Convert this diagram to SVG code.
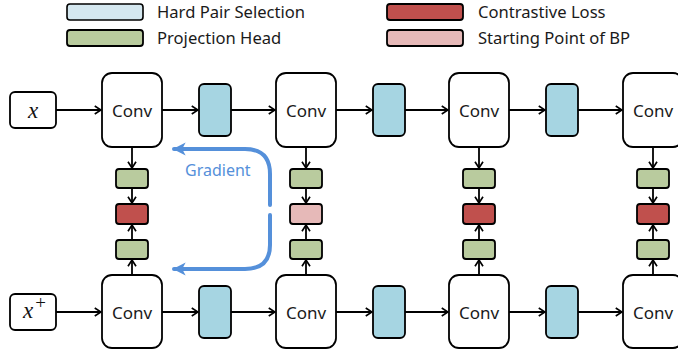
<svg xmlns="http://www.w3.org/2000/svg" width="678" height="351" viewBox="0 0 678 351">
  <style>
    .lbl { font-family: "Noto Sans", "DejaVu Sans", sans-serif; fill: #1a1a1a; }
    .legend { font-size: 16.6px; }
    .conv { fill: #ffffff; stroke: #000; stroke-width: 1.8; }
    .conv-t { font-size: 17px; text-anchor: middle; }
    .hps { fill: #a6d5e2; stroke: #000; stroke-width: 1.8; }
    .proj { fill: #b9cb9e; stroke: #000; stroke-width: 1.8; }
    .loss { fill: #c0504d; stroke: #000; stroke-width: 1.8; }
    .bp { fill: #e6b9b8; stroke: #000; stroke-width: 1.8; }
    .inp { fill: #fff; stroke: #000; stroke-width: 1.8; }
    .math { font-family: "Liberation Serif", "DejaVu Serif", serif; font-style: italic; font-size: 23px; fill: #111; }
    .wire { stroke: #000; stroke-width: 1.8; fill: none; marker-end: url(#chev); }
    .grad { stroke: #5590da; stroke-width: 4; fill: none; stroke-linecap: round; }
  </style>
  <defs>
    <!-- open chevron tip used by all black connectors -->
    <marker id="chev" viewBox="0 0 10 12" refX="9" refY="6" markerWidth="8.5" markerHeight="10" markerUnits="userSpaceOnUse" orient="auto">
      <path d="M1.5,1.2 L9,6 L1.5,10.8" fill="none" stroke="#000" stroke-width="2"/>
    </marker>
    <marker id="gradHead" viewBox="0 0 12 12" refX="10" refY="6" markerWidth="14" markerHeight="14" markerUnits="userSpaceOnUse" orient="auto">
      <path d="M0,0.5 L11,6 L0,11.5 L3,6 Z" fill="#5590da"/>
    </marker>
  </defs>

  <!-- legend -->
  <g id="legend">
    <rect x="67" y="4" width="76" height="16" rx="3" fill="#d5e8f0" stroke="#000" stroke-width="1.6"/>
    <text class="lbl legend" x="157" y="17.5">Hard Pair Selection</text>
    <rect x="67" y="30" width="76" height="16" rx="3" class="proj" stroke-width="1.6"/>
    <text class="lbl legend" x="157" y="44">Projection Head</text>
    <rect x="387" y="4" width="76" height="16" rx="3" class="loss" stroke-width="1.6"/>
    <text class="lbl legend" x="478" y="17.5">Contrastive Loss</text>
    <rect x="387" y="30" width="76" height="16" rx="3" class="bp" stroke-width="1.6"/>
    <text class="lbl legend" x="478" y="44">Starting Point of BP</text>
  </g>

  <!-- connectors -->
  <g id="connectors">
    <!-- top row -->
    <line class="wire" x1="56" y1="110" x2="101" y2="110"/>
    <line class="wire" x1="162" y1="110" x2="198" y2="110"/>
    <line class="wire" x1="231" y1="110" x2="275" y2="110"/>
    <line class="wire" x1="336" y1="110" x2="372" y2="110"/>
    <line class="wire" x1="405" y1="110" x2="448" y2="110"/>
    <line class="wire" x1="509" y1="110" x2="545" y2="110"/>
    <line class="wire" x1="578" y1="110" x2="622" y2="110"/>
    <!-- bottom row -->
    <line class="wire" x1="56" y1="312" x2="101" y2="312"/>
    <line class="wire" x1="162" y1="312" x2="198" y2="312"/>
    <line class="wire" x1="231" y1="312" x2="275" y2="312"/>
    <line class="wire" x1="336" y1="312" x2="372" y2="312"/>
    <line class="wire" x1="405" y1="312" x2="448" y2="312"/>
    <line class="wire" x1="509" y1="312" x2="545" y2="312"/>
    <line class="wire" x1="578" y1="312" x2="622" y2="312"/>
    <!-- vertical heads: column 1 -->
    <line class="wire" x1="132" y1="147" x2="132" y2="168"/>
    <line class="wire" x1="132" y1="188" x2="132" y2="203"/>
    <line class="wire" x1="132" y1="239" x2="132" y2="225"/>
    <line class="wire" x1="132" y1="275" x2="132" y2="260"/>
    <!-- column 2 -->
    <line class="wire" x1="306" y1="147" x2="306" y2="168"/>
    <line class="wire" x1="306" y1="188" x2="306" y2="203"/>
    <line class="wire" x1="306" y1="239" x2="306" y2="225"/>
    <line class="wire" x1="306" y1="275" x2="306" y2="260"/>
    <!-- column 3 -->
    <line class="wire" x1="479" y1="147" x2="479" y2="168"/>
    <line class="wire" x1="479" y1="188" x2="479" y2="203"/>
    <line class="wire" x1="479" y1="239" x2="479" y2="225"/>
    <line class="wire" x1="479" y1="275" x2="479" y2="260"/>
    <!-- column 4 -->
    <line class="wire" x1="653" y1="147" x2="653" y2="168"/>
    <line class="wire" x1="653" y1="188" x2="653" y2="203"/>
    <line class="wire" x1="653" y1="239" x2="653" y2="225"/>
    <line class="wire" x1="653" y1="275" x2="653" y2="260"/>
    <!-- gradient flow -->
    <path class="grad" d="M270,205 L270,174 Q270,149 245,149 L174,149" marker-end="url(#gradHead)"/>
    <path class="grad" d="M270,215 L270,245 Q270,269 245,269 L174,269" marker-end="url(#gradHead)"/>
  </g>
  <text class="lbl" x="185" y="176" font-size="16" style="fill:#5590da">Gradient</text>

  <!-- inputs -->
  <g id="input-x">
    <rect class="inp" x="10" y="92" width="46" height="36" rx="5"/>
    <text class="math" x="33" y="117.5" text-anchor="middle">x</text>
  </g>
  <g id="input-xplus">
    <rect class="inp" x="10" y="294" width="46" height="36" rx="5"/>
    <text class="math" x="23" y="317.5">x<tspan font-style="normal" font-size="19" dx="2" dy="-9">+</tspan></text>
  </g>

  <!-- top branch -->
  <g id="conv-t1"><rect class="conv" x="102" y="73" width="60" height="74" rx="10"/><text class="lbl conv-t" x="132" y="116.5">Conv</text></g>
  <g id="hps-t1"><rect class="hps" x="199" y="84" width="32" height="52" rx="5"/></g>
  <g id="conv-t2"><rect class="conv" x="276" y="73" width="60" height="74" rx="10"/><text class="lbl conv-t" x="306" y="116.5">Conv</text></g>
  <g id="hps-t2"><rect class="hps" x="373" y="84" width="32" height="52" rx="5"/></g>
  <g id="conv-t3"><rect class="conv" x="449" y="73" width="60" height="74" rx="10"/><text class="lbl conv-t" x="479" y="116.5">Conv</text></g>
  <g id="hps-t3"><rect class="hps" x="546" y="84" width="32" height="52" rx="5"/></g>
  <g id="conv-t4"><rect class="conv" x="623" y="73" width="60" height="74" rx="10"/><text class="lbl conv-t" x="653" y="116.5">Conv</text></g>

  <!-- bottom branch -->
  <g id="conv-b1"><rect class="conv" x="102" y="275" width="60" height="73" rx="10"/><text class="lbl conv-t" x="132" y="318.5">Conv</text></g>
  <g id="hps-b1"><rect class="hps" x="199" y="286" width="32" height="52" rx="5"/></g>
  <g id="conv-b2"><rect class="conv" x="276" y="275" width="60" height="73" rx="10"/><text class="lbl conv-t" x="306" y="318.5">Conv</text></g>
  <g id="hps-b2"><rect class="hps" x="373" y="286" width="32" height="52" rx="5"/></g>
  <g id="conv-b3"><rect class="conv" x="449" y="275" width="60" height="73" rx="10"/><text class="lbl conv-t" x="479" y="318.5">Conv</text></g>
  <g id="hps-b3"><rect class="hps" x="546" y="286" width="32" height="52" rx="5"/></g>
  <g id="conv-b4"><rect class="conv" x="623" y="275" width="60" height="73" rx="10"/><text class="lbl conv-t" x="653" y="318.5">Conv</text></g>

  <!-- projection heads and losses -->
  <g id="head-1">
    <rect class="proj" x="116" y="169" width="32" height="19" rx="3"/>
    <rect class="loss" x="116" y="204" width="32" height="20" rx="3"/>
    <rect class="proj" x="116" y="240" width="32" height="19" rx="3"/>
  </g>
  <g id="head-2">
    <rect class="proj" x="290" y="169" width="32" height="19" rx="3"/>
    <rect class="bp" x="290" y="204" width="32" height="20" rx="3"/>
    <rect class="proj" x="290" y="240" width="32" height="19" rx="3"/>
  </g>
  <g id="head-3">
    <rect class="proj" x="463" y="169" width="32" height="19" rx="3"/>
    <rect class="loss" x="463" y="204" width="32" height="20" rx="3"/>
    <rect class="proj" x="463" y="240" width="32" height="19" rx="3"/>
  </g>
  <g id="head-4">
    <rect class="proj" x="637" y="169" width="32" height="19" rx="3"/>
    <rect class="loss" x="637" y="204" width="32" height="20" rx="3"/>
    <rect class="proj" x="637" y="240" width="32" height="19" rx="3"/>
  </g>
</svg>
